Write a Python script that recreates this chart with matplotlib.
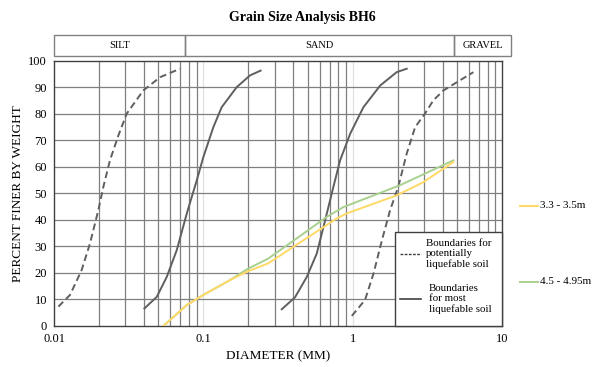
import matplotlib.pyplot as plt
from matplotlib.patches import Rectangle
from matplotlib.transforms import blended_transform_factory

plt.rcParams['font.family'] = ['Liberation Serif', 'DejaVu Serif']

# Data
pot_lo_d = [0.0107, 0.0128, 0.0153, 0.0174, 0.0198, 0.0214, 0.0237, 0.027, 0.0307, 0.0396, 0.0513, 0.0698]
pot_lo_p = [7.3, 11.7, 21, 31, 43.6, 52.4, 62.4, 71.8, 80, 88.7, 93.7, 96.9]
most_lo_d = [0.0403, 0.0488, 0.0569, 0.0664, 0.0775, 0.0904, 0.100, 0.1167, 0.1327, 0.1675, 0.2056, 0.242]
most_lo_p = [6.6, 11, 18.5, 28.6, 42.4, 54.9, 63.6, 74.9, 82.4, 90, 94.4, 96.2]
most_hi_d = [0.335, 0.411, 0.493, 0.575, 0.654, 0.743, 0.824, 0.962, 1.18, 1.53, 1.97, 2.30]
most_hi_p = [6.3, 10.8, 18.5, 27.3, 39.8, 52.4, 62.4, 72.4, 82.4, 90.6, 95.6, 96.9]
pot_hi_d = [0.987, 1.21, 1.38, 1.57, 1.78, 2.02, 2.30, 2.62, 3.05, 3.47, 4.05, 4.98, 6.43]
pot_hi_p = [3.8, 9.8, 19.8, 32.3, 43.6, 52.4, 64.9, 74.9, 80, 85, 88.7, 91.8, 95.6]
bh_a_d = [0.054, 0.0775, 0.100, 0.151, 0.195, 0.272, 0.468, 0.782, 0.912, 1.97, 2.98, 4.73]
bh_a_p = [0, 7.9, 11.7, 17.3, 20.4, 23.6, 32.3, 40.5, 42.4, 49.2, 54.2, 61.8]
bh_b_d = [0.054, 0.0775, 0.100, 0.151, 0.195, 0.272, 0.468, 0.671, 0.867, 2.07, 4.73]
bh_b_p = [0, 7.9, 11.7, 17.3, 21.3, 25.4, 34.8, 41.1, 44.8, 53, 62.4]
soil_names = ['SILT', 'SAND', 'GRAVEL']
soil_edges = [0.01, 0.075, 4.75, 11.5]

fig = plt.figure(figsize=(5.96, 3.67), dpi=100)
ax = fig.add_axes([54 / 596, 1 - 326 / 367, 448 / 596, 265.5 / 367])
ax.set_xscale('log')
ax.set_xlim(0.01, 10)
ax.set_ylim(0, 100)

# grid
for dec in [0.01, 0.1, 1]:
    for k in range(2, 10):
        ax.axvline(dec * k, color='#7f7f7f', lw=0.9, zorder=1)
for v in [0.1, 1]:
    ax.axvline(v, color='#e0e0e0', lw=0.9, zorder=1)
for yv in range(10, 100, 10):
    ax.axhline(yv, color='#7f7f7f', lw=0.9, zorder=1)

gray = '#5f5f5f'
ax.plot(pot_lo_d, pot_lo_p, color=gray, lw=1.4, ls=(0, (3.5, 2)), zorder=3)
ax.plot(pot_hi_d, pot_hi_p, color=gray, lw=1.4, ls=(0, (3.5, 2)), zorder=3)
ax.plot(most_lo_d, most_lo_p, color=gray, lw=1.4, zorder=3)
ax.plot(most_hi_d, most_hi_p, color=gray, lw=1.4, zorder=3)
ax.plot(bh_b_d, bh_b_p, color='#a9d18e', lw=1.4, zorder=4)
ax.plot(bh_a_d, bh_a_p, color='#ffd966', lw=1.4, zorder=4)

ax.set_xticks([0.01, 0.1, 1, 10])
ax.set_xticklabels(['0.01', '0.1', '1', '10'])
ax.set_xticks([], minor=True)
ax.set_yticks(range(0, 101, 10))
ax.tick_params(length=0, labelsize=9, pad=5)
for s in ax.spines.values():
    s.set_color('#404040')
    s.set_linewidth(1)

ax.set_xlabel('DIAMETER (MM)', fontsize=9.5, labelpad=4)
ax.set_ylabel('PERCENT FINER BY WEIGHT', fontsize=9.5, labelpad=3)

# soil type header
tr = blended_transform_factory(ax.transData, ax.transAxes)
y0 = (326 - 55.5) / 265.5
h = 20.5 / 265.5
for name, a, b in zip(soil_names, soil_edges[:-1], soil_edges[1:]):
    ax.add_patch(Rectangle((a, y0), b - a, h, transform=tr, fill=False,
                           ec='#808080', lw=1, clip_on=False))
    ax.text((a * b) ** 0.5, y0 + h / 2, name, transform=tr, ha='center',
            va='center', fontsize=7.5)

fig.text(0.507, 1 - 17 / 367, 'Grain Size Analysis BH6', ha='center',
         va='center', fontsize=10, fontweight='bold')

# inner legend box
lx0, ly1 = 395 / 596, 1 - 231.5 / 367
fig.patches.append(Rectangle((lx0, 1 - 326 / 367), 502 / 596 - lx0, ly1 - (1 - 326 / 367),
                             transform=fig.transFigure, fc='white',
                             ec='#404040', lw=1, zorder=5))
fig.add_artist(plt.Line2D([400 / 596, 421 / 596], [1 - 254 / 367] * 2, color='#404040',
                          lw=1, ls=(0, (2, 1)), zorder=6))
fig.add_artist(plt.Line2D([400 / 596, 421 / 596], [1 - 299 / 367] * 2, color='#404040',
                          lw=1.2, zorder=6))
fig.text(426 / 596, 1 - 254 / 367, 'Boundaries for\npotentially\nliquefable soil',
         fontsize=7.8, va='center', ha='left', zorder=7, linespacing=1.15)
fig.text(429 / 596, 1 - 299 / 367, 'Boundaries\nfor most\nliquefable soil',
         fontsize=7.8, va='center', ha='left', zorder=7, linespacing=1.15)

# outer legend
fig.add_artist(plt.Line2D([520 / 596, 538 / 596], [1 - 206 / 367] * 2, color='#ffd966', lw=1.4))
fig.add_artist(plt.Line2D([520 / 596, 538 / 596], [1 - 282 / 367] * 2, color='#a9d18e', lw=1.4))
fig.text(540 / 596, 1 - 206 / 367, '3.3 - 3.5m', fontsize=8, va='center')
fig.text(540 / 596, 1 - 282 / 367, '4.5 - 4.95m', fontsize=8, va='center')

fig.savefig('out.png', dpi=100)
